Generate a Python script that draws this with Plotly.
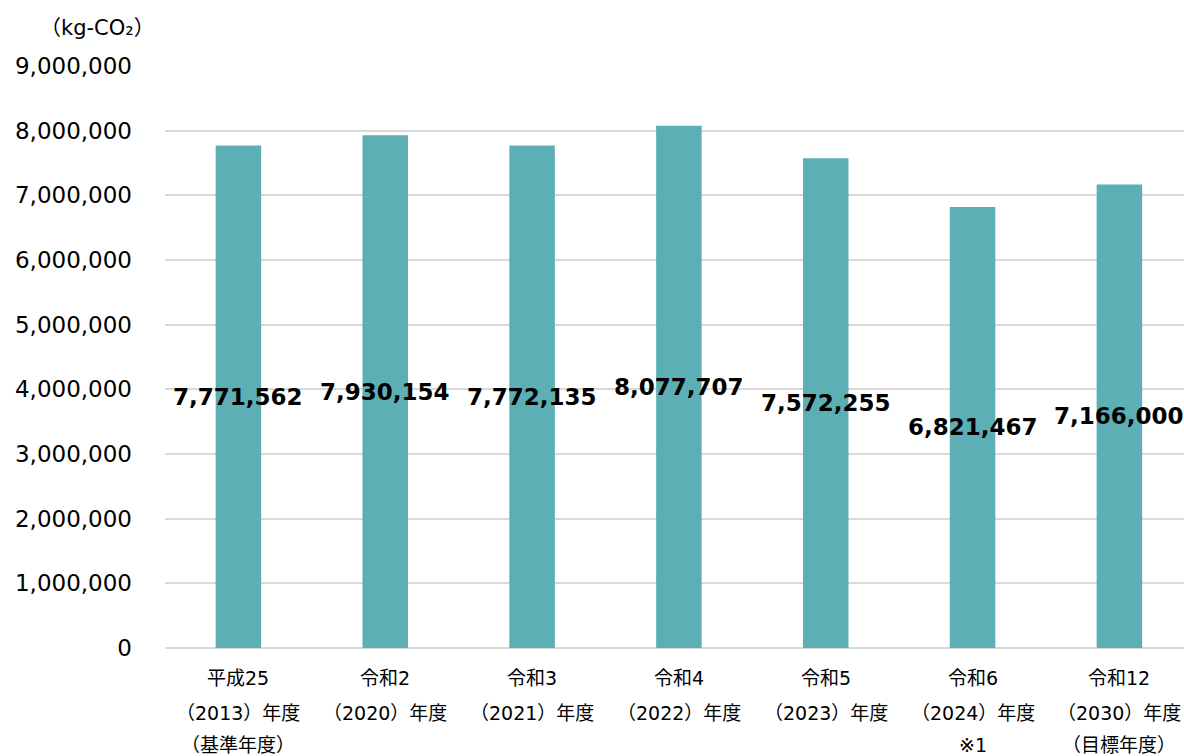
import plotly.graph_objects as go

# 年度別 CO2 排出量
categories = ["H25", "R2", "R3", "R4", "R5", "R6", "R12"]
label_lines = [
    ["平成25", "（2013）年度", "（基準年度）"],
    ["令和2", "（2020）年度"],
    ["令和3", "（2021）年度"],
    ["令和4", "（2022）年度"],
    ["令和5", "（2023）年度"],
    ["令和6", "（2024）年度", "※1"],
    ["令和12", "（2030）年度", "（目標年度）"],
]
emissions = [7771562, 7930154, 7772135, 8077707, 7572255, 6821467, 7166000]
y_ticks = [0, 1000000, 2000000, 3000000, 4000000, 5000000, 6000000, 7000000, 8000000, 9000000]

BAR_COLOR = "#5BAFB5"
LATIN = "DejaVu Sans, Noto Sans CJK JP, sans-serif"

fig = go.Figure(
    go.Bar(
        x=list(range(len(categories))),
        y=emissions,
        width=0.31,
        marker=dict(color=BAR_COLOR, line=dict(width=0)),
        hoverinfo="skip",
    )
)

# 値ラベル（棒の中央）
for i, v in enumerate(emissions):
    fig.add_annotation(
        x=i, y=v / 2, xref="x", yref="y",
        text=f"<b>{v:,}</b>", showarrow=False,
        font=dict(family=LATIN, size=23, color="#000000"),
        xanchor="center", yanchor="middle",
    )

# 項目ラベル（行ごとに配置）
line_offsets = [-30, -65, -97]
for i, lines in enumerate(label_lines):
    for j, t in enumerate(lines):
        fig.add_annotation(
            x=i, y=0, xref="x", yref="paper",
            text=t, showarrow=False,
            font=dict(family=LATIN, size=19, color="#000000"),
            xanchor="center", yanchor="middle", yshift=line_offsets[j],
        )

# 単位
fig.add_annotation(
    x=-0.125, y=1.0, xref="paper", yref="paper",
    text="（kg-CO₂）", showarrow=False,
    xanchor="left", yanchor="middle", yshift=38,
    font=dict(family=LATIN, size=21, color="#000000"),
)

fig.update_layout(
    width=1184, height=756,
    margin=dict(l=165, r=0, t=66, b=108),
    paper_bgcolor="white", plot_bgcolor="white",
    showlegend=False,
    xaxis=dict(
        range=[-0.5, 6.44],
        showticklabels=False, showgrid=False, zeroline=False,
        showline=False, ticks="",
    ),
    yaxis=dict(
        range=[0, 9000000],
        tickvals=y_ticks,
        ticktext=[f"{v:,}" for v in y_ticks],
        tickfont=dict(family=LATIN, size=23, color="#000000"),
        showgrid=True, gridcolor="#D9D9D9", gridwidth=2,
        zeroline=True, zerolinecolor="#D9D9D9", zerolinewidth=2,
        showline=False, ticks="", ticklabelstandoff=32,
    ),
)

fig.write_html("out.html")
